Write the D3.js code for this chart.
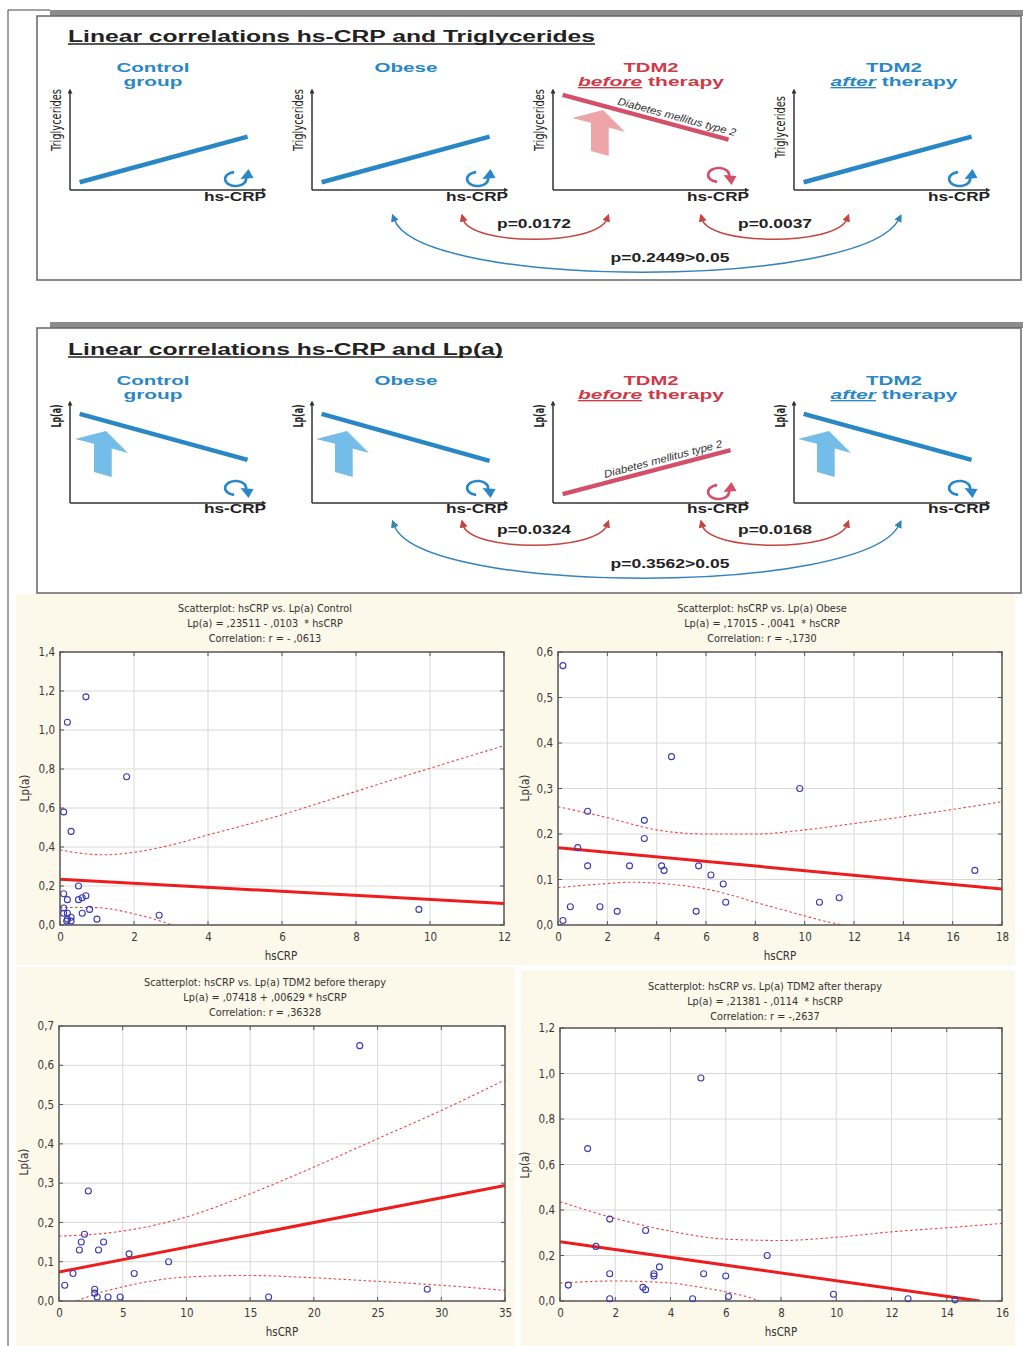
<!DOCTYPE html>
<html><head><meta charset="utf-8">
<script src="https://cdn.jsdelivr.net/npm/d3@7"></script>
<style>body{margin:0;background:#fff}</style>
</head><body>
<svg id="c" width="1023" height="1346" xmlns="http://www.w3.org/2000/svg"></svg>
<script>
// ---------------- DATA ----------------
const groups = ["Control group", "Obese", "TDM2 before therapy", "TDM2 after therapy"];
const groupTitleLines = [["Control", "group"], ["Obese"], ["TDM2", "before therapy"], ["TDM2", "after therapy"]];
const groupColorKey = ["blue", "blue", "red", "blue"];
// schematic trend lines (normalised 0..1 units: x0, y0, x1, y1)
const trigTrend = [[0.05, 0.08, 0.92, 0.55], [0.05, 0.08, 0.92, 0.55], [0.05, 0.98, 0.91, 0.52], [0.05, 0.08, 0.92, 0.55]];
const lpTrend   = [[0.05, 0.91, 0.92, 0.44], [0.05, 0.91, 0.92, 0.43], [0.05, 0.09, 0.92, 0.54], [0.05, 0.91, 0.92, 0.44]];
const trigRotation = ["up", "up", "down", "up"];
const lpRotation   = ["down", "down", "up", "down"];
const trigBigArrow = [false, false, true, false];
const lpBigArrow   = [true, true, false, true];
const pTrig = ["p=0.0172", "p=0.0037", "p=0.2449>0.05"];
const pLp   = ["p=0.0324", "p=0.0168", "p=0.3562>0.05"];
const panelTitles = ["Linear correlations hs-CRP and Triglycerides", "Linear correlations hs-CRP and Lp(a)"];

// scatter plots (hsCRP, Lp(a))
const controlPts = [[0.7,1.17],[0.2,1.04],[1.8,0.76],[0.1,0.58],[0.3,0.48],[0.5,0.2],[0.1,0.16],[0.2,0.13],[0.5,0.13],[0.6,0.14],[0.7,0.15],[0.1,0.087],[0.8,0.08],[0.1,0.06],[0.2,0.06],[0.6,0.06],[0.2,0.03],[0.3,0.04],[0.18,0.02],[0.3,0.02],[1.0,0.03],[2.68,0.05],[9.7,0.08]];
const obesePts = [[0.2,0.57],[4.6,0.37],[9.8,0.30],[1.2,0.25],[3.5,0.23],[3.5,0.19],[0.8,0.17],[1.2,0.13],[2.9,0.13],[4.2,0.13],[4.3,0.12],[5.7,0.13],[6.2,0.11],[6.7,0.09],[6.8,0.05],[16.9,0.12],[0.5,0.04],[1.7,0.04],[2.4,0.03],[5.6,0.03],[0.2,0.01],[10.6,0.05],[11.4,0.06]];
const beforePts = [[23.6,0.65],[2.3,0.28],[2.0,0.17],[1.75,0.15],[3.5,0.15],[1.6,0.13],[3.1,0.13],[5.5,0.12],[8.6,0.10],[1.1,0.07],[5.9,0.07],[0.45,0.04],[2.8,0.03],[2.8,0.02],[3.0,0.01],[3.85,0.01],[4.8,0.01],[16.45,0.01],[28.9,0.03]];
const afterPts = [[5.1,0.98],[1.0,0.67],[1.8,0.36],[3.1,0.31],[1.3,0.24],[7.5,0.20],[3.6,0.15],[1.8,0.12],[3.4,0.12],[3.4,0.11],[5.2,0.12],[6.0,0.11],[0.3,0.07],[3.0,0.06],[3.1,0.05],[1.8,0.01],[4.8,0.01],[6.1,0.02],[9.9,0.03],[12.6,0.01],[14.3,0.005]];

const controlFit = [[0,0.235],[12,0.11]];
const obeseFit   = [[0,0.17],[18,0.079]];
const beforeFit  = [[0,0.074],[35,0.294]];
const afterFit   = [[0,0.26],[15.2,0]];

const controlUpper = [[0,0.385],[0.6,0.367],[1.2,0.36],[2,0.373],[3,0.41],[4,0.462],[5,0.512],[6,0.565],[7,0.625],[8,0.685],[9,0.745],[10,0.804],[11,0.862],[12,0.92]];
const controlLower = [[0,0.09],[1,0.089],[1.5,0.078],[2,0.057],[2.5,0.033],[3.02,0]];
const obeseUpper = [[0,0.26],[2,0.236],[4,0.209],[6,0.2],[8,0.2],[10,0.209],[12,0.223],[14,0.238],[16,0.254],[18,0.271]];
const obeseLower = [[0,0.082],[2,0.091],[3,0.094],[4,0.092],[5,0.087],[6,0.079],[7,0.066],[8,0.05],[9,0.035],[10,0.02],[11,0.006],[11.57,0]];
const beforeUpper = [[0,0.165],[5,0.178],[10,0.214],[15,0.273],[20,0.341],[25,0.413],[30,0.485],[35,0.563]];
const beforeLower = [[1.39,0],[3,0.019],[5,0.036],[10,0.061],[15,0.065],[20,0.059],[25,0.05],[30,0.04],[35,0.027]];
const afterUpper = [[0,0.436],[2,0.363],[4,0.307],[6,0.272],[8,0.266],[10,0.28],[12,0.304],[14,0.322],[16,0.341]];
const afterLower = [[0,0.079],[2,0.088],[4,0.079],[5,0.062],[6,0.04],[7,0.01],[7.23,0]];

const controlXTicks = [0,2,4,6,8,10,12],  controlYTicks = [0,0.2,0.4,0.6,0.8,1.0,1.2,1.4];
const obeseXTicks = [0,2,4,6,8,10,12,14,16,18], obeseYTicks = [0,0.1,0.2,0.3,0.4,0.5,0.6];
const beforeXTicks = [0,5,10,15,20,25,30,35], beforeYTicks = [0,0.1,0.2,0.3,0.4,0.5,0.6,0.7];
const afterXTicks = [0,2,4,6,8,10,12,14,16], afterYTicks = [0,0.2,0.4,0.6,0.8,1.0,1.2];

const scatterTitles = [
  ["Scatterplot: hsCRP vs. Lp(a) Control", "Lp(a) = ,23511 - ,0103  * hsCRP", "Correlation: r = - ,0613"],
  ["Scatterplot: hsCRP vs. Lp(a) Obese", "Lp(a) = ,17015 - ,0041  * hsCRP", "Correlation: r = -,1730"],
  ["Scatterplot: hsCRP vs. Lp(a) TDM2 before therapy", "Lp(a) = ,07418 + ,00629 * hsCRP", "Correlation: r = ,36328"],
  ["Scatterplot: hsCRP vs. Lp(a) TDM2 after therapy", "Lp(a) = ,21381 - ,0114  * hsCRP", "Correlation: r = -,2637"]
];

// ---------------- STYLE / LAYOUT ----------------
const BLUE = "#2a87c6", RED = "#cf3a48", LINE_RED = "#d4506a", PINK = "#eca4a9", LBLUE = "#74bde9";
const ARC_RED = "#c8453f", ARC_BLUE = "#3282bb";
const CREAM = "#fcf8ea";
const BOLD = "'Liberation Sans', Arial, sans-serif";
const NARROW = "'Liberation Sans Narrow', 'Arial Narrow', 'DejaVu Sans Condensed', sans-serif";

const svg = d3.select("#c");
const defs = svg.append("defs");
function marker(id, color, size) {
  defs.append("marker").attr("id", id).attr("viewBox", "0 0 10 10")
    .attr("refX", 3).attr("refY", 5).attr("markerWidth", size).attr("markerHeight", size)
    .attr("markerUnits", "userSpaceOnUse").attr("orient", "auto-start-reverse")
    .append("path").attr("d", "M0,0L10,5L0,10z").attr("fill", color);
}
marker("mRed", ARC_RED, 8); marker("mBlue", ARC_BLUE, 8); marker("mAx", "#333", 5);

// outer frame lines
svg.append("line").attr("x1", 8).attr("y1", 10).attr("x2", 8).attr("y2", 1346).attr("stroke", "#444").attr("stroke-width", 1);
svg.append("line").attr("x1", 8).attr("y1", 10).attr("x2", 50).attr("y2", 10).attr("stroke", "#444").attr("stroke-width", 1);

function btext(g, str, x, y, size, len, color, anchor) {
  return g.append("text").attr("x", x).attr("y", y).attr("font-family", BOLD).attr("font-weight", "bold")
    .attr("font-size", size).attr("fill", color || "#222").attr("text-anchor", anchor || "middle")
    .attr("textLength", len).attr("lengthAdjust", "spacingAndGlyphs").text(str);
}

const miniX = [70, 312, 553, 794];
const titleCx = [153, 406, 651, 894];
const titleLen = [[73, 59], [63], [55, 146], [56, 127]];

function panel(cfg) {
  const g = svg.append("g");
  // gray bar + box
  g.append("rect").attr("x", 50).attr("y", cfg.boxTop - 6).attr("width", 973).attr("height", 6).attr("fill", "#8c8c8c");
  g.append("rect").attr("x", 37).attr("y", cfg.boxTop).attr("width", 984).attr("height", cfg.boxBottom - cfg.boxTop)
    .attr("fill", "#fff").attr("stroke", "#666").attr("stroke-width", 1.5);
  // title
  btext(g, cfg.title, 68, cfg.titleY, 16, cfg.titleLen, "#222", "start");
  g.append("line").attr("x1", 68).attr("x2", 68 + cfg.titleLen).attr("y1", cfg.titleY + 2.5).attr("y2", cfg.titleY + 2.5)
    .attr("stroke", "#222").attr("stroke-width", 1.3);

  groups.forEach((grp, i) => {
    const ox = miniX[i], oy = cfg.oy;
    const x = d3.scaleLinear().domain([0, 1]).range([ox, ox + 193]);
    const y = d3.scaleLinear().domain([0, 1]).range([oy, cfg.top]);
    const col = groupColorKey[i] === "red" ? RED : BLUE;
    const lcol = groupColorKey[i] === "red" ? LINE_RED : BLUE;
    // titles
    const lines = groupTitleLines[i];
    lines.forEach((ln, k) => {
      const ty = cfg.titleBase[k];
      if (ln.startsWith("before") || ln.startsWith("after")) {
        const word = ln.split(" ")[0];
        const t = g.append("text").attr("x", titleCx[i]).attr("y", ty).attr("font-family", BOLD).attr("font-weight", "bold")
          .attr("font-size", 13.5).attr("fill", col).attr("text-anchor", "middle")
          .attr("textLength", titleLen[i][k]).attr("lengthAdjust", "spacingAndGlyphs");
        t.append("tspan").attr("font-style", "italic").attr("text-decoration", "underline").text(word);
        t.append("tspan").text(" therapy");
      } else {
        btext(g, ln, titleCx[i], ty, 13.5, titleLen[i][k], col);
      }
    });
    // axes
    g.append("line").attr("x1", ox).attr("y1", oy).attr("x2", ox).attr("y2", cfg.top - 1).attr("stroke", "#333").attr("stroke-width", 1.5).attr("marker-end", "url(#mAx)");
    g.append("line").attr("x1", ox).attr("y1", oy).attr("x2", ox + 193).attr("y2", oy).attr("stroke", "#333").attr("stroke-width", 1.5).attr("marker-end", "url(#mAx)");
    // y label
    const yl = cfg.yLabel;
    g.append("text").attr("transform", `translate(${ox - 9},${cfg.yLabelCy[i]}) rotate(-90)`)
      .attr("text-anchor", "middle").attr("font-family", NARROW).attr("font-size", 14)
      .attr("font-weight", cfg.yLabelBold ? "bold" : "normal").attr("fill", "#222")
      .attr("textLength", cfg.yLabelLen).attr("lengthAdjust", "spacingAndGlyphs").text(yl);
    // hs-CRP label
    btext(g, "hs-CRP", ox + 165, cfg.hsY, 12.5, 62, "#222");
    // block arrow (behind line)
    if (cfg.bigArrow[i]) {
      const tipX = ox + cfg.arrowDx[i], tipY = oy + cfg.arrowDy;
      const shape = [[0,0],[22,22],[5.7,17.6],[5.7,46],[-12,41],[-12,12.8],[-31,8]];
      g.append("polygon").attr("points", shape.map(p => [tipX + p[0], tipY + p[1]].join(",")).join(" "))
        .attr("fill", groupColorKey[i] === "red" ? PINK : LBLUE);
    }
    // trend line
    const tr = cfg.trend[i];
    g.append("line").attr("x1", x(tr[0])).attr("y1", y(tr[1])).attr("x2", x(tr[2])).attr("y2", y(tr[3]))
      .attr("stroke", lcol).attr("stroke-width", 4.5);
    if (groupColorKey[i] === "red") {
      const x0 = x(tr[0]), y0 = y(tr[1]), x1 = x(tr[2]), y1 = y(tr[3]);
      const ang = Math.atan2(y1 - y0, x1 - x0) * 180 / Math.PI;
      const t = cfg.dmT;
      g.append("text").attr("transform", `translate(${x0 + t * (x1 - x0)},${y0 + t * (y1 - y0)}) rotate(${ang})`)
        .attr("y", -5).attr("font-family", BOLD).attr("font-style", "italic").attr("font-size", 10.5)
        .attr("fill", "#333").attr("textLength", 122).attr("lengthAdjust", "spacingAndGlyphs").text("Diabetes mellitus type 2");
    }
    // rotation icon
    const rot = cfg.rotation[i];
    const cx = ox + 166, rx = 10.5, ry = 7;
    const cy = rot === "up" ? oy - 11 : oy - 15;
    const s = rot === "up" ? -1 : 1;
    const sx = cx + rx * Math.cos(100 * Math.PI / 180) , sy = cy + s * ry * Math.sin(100 * Math.PI / 180);
    g.append("path").attr("d", `M${sx},${sy} A${rx},${ry} 0 1 ${rot === "up" ? 0 : 1} ${cx + rx - 0.5},${cy + s * 1}`)
      .attr("fill", "none").attr("stroke", lcol).attr("stroke-width", 2.6);
    const ax = cx + rx, ay = cy;
    g.append("polygon").attr("points", [[ax - 6, ay + s * 0], [ax + 7, ay + s * 1], [ax + 2, ay + s * 10]].map(p => p.join(",")).join(" "))
      .attr("fill", lcol);
  });

  // p-value arcs
  const arcs = [
    { d: [463, 607, 246], c: ARC_RED, m: "mRed", lx: 534, ly: 229, t: cfg.p[0], len: 74 },
    { d: [702, 847, 246], c: ARC_RED, m: "mRed", lx: 775, ly: 229, t: cfg.p[1], len: 74 },
    { d: [394, 899, 290], c: ARC_BLUE, m: "mBlue", lx: 670, ly: 263, t: cfg.p[2], len: 119 }
  ];
  arcs.forEach(a => {
    const y0 = 219 + cfg.arcDy, yc = a.d[2] + cfg.arcDy;
    const wid = a.d[1] - a.d[0];
    g.append("path").attr("d", `M${a.d[0]},${y0} C${a.d[0] + wid * 0.05},${yc} ${a.d[1] - wid * 0.07},${yc} ${a.d[1]},${y0}`)
      .attr("fill", "none").attr("stroke", a.c).attr("stroke-width", 1.5)
      .attr("marker-start", `url(#${a.m})`).attr("marker-end", `url(#${a.m})`);
    btext(g, a.t, a.lx, a.ly + cfg.arcDy - 1, 12.5, a.len, "#222");
  });
}

panel({ boxTop: 16, boxBottom: 280, title: panelTitles[0], titleY: 41.5, titleLen: 527, oy: 190, top: 93,
  titleBase: [72, 86], hsY: 200.5, yLabel: "Triglycerides", yLabelCy: [120, 120, 120, 127], yLabelLen: 62, yLabelBold: false,
  trend: trigTrend, rotation: trigRotation, bigArrow: trigBigArrow, arrowDx: [0, 0, 50, 0], arrowDy: -80, dmT: 0.32,
  arcDy: 0, p: pTrig });
panel({ boxTop: 328, boxBottom: 593, title: panelTitles[1], titleY: 354.5, titleLen: 435, oy: 503, top: 405,
  titleBase: [385, 399], hsY: 513, yLabel: "Lp(a)", yLabelCy: [416, 416, 416, 416], yLabelLen: 23, yLabelBold: true,
  trend: lpTrend, rotation: lpRotation, bigArrow: lpBigArrow, arrowDx: [36, 35, 0, 35], arrowDy: -72, dmT: 0.26,
  arcDy: 306, p: pLp });

// ---------------- SCATTERPLOTS ----------------
const locale = d3.formatLocale({ decimal: ",", thousands: " ", grouping: [3], currency: ["", ""] });
const fy = locale.format(".1f");
const scatterLayout = [
  { bg: [16, 594, 501, 371], left: 60, right: 504, top: 652, bottom: 925, tcx: 265, ty: 611.5, xl: [281, 960], yl: [29, 788] },
  { bg: [517, 594, 498, 371], left: 558, right: 1002, top: 652, bottom: 925, tcx: 762, ty: 611.5, xl: [780, 960], yl: [529, 788] },
  { bg: [16, 967, 499, 379], left: 59, right: 505, top: 1026, bottom: 1301, tcx: 265, ty: 985.5, xl: [282, 1336], yl: [28, 1162] },
  { bg: [521, 970, 494, 376], left: 560, right: 1002, top: 1028, bottom: 1301, tcx: 765, ty: 989.5, xl: [781, 1336], yl: [529, 1165] }
];
const scatterData = [
  { pts: controlPts, fit: controlFit, up: controlUpper, lo: controlLower, xt: controlXTicks, yt: controlYTicks },
  { pts: obesePts, fit: obeseFit, up: obeseUpper, lo: obeseLower, xt: obeseXTicks, yt: obeseYTicks },
  { pts: beforePts, fit: beforeFit, up: beforeUpper, lo: beforeLower, xt: beforeXTicks, yt: beforeYTicks },
  { pts: afterPts, fit: afterFit, up: afterUpper, lo: afterLower, xt: afterXTicks, yt: afterYTicks }
];

scatterData.forEach((d, i) => {
  const L = scatterLayout[i];
  const g = svg.append("g");
  g.append("rect").attr("x", L.bg[0]).attr("y", L.bg[1]).attr("width", L.bg[2]).attr("height", L.bg[3]).attr("fill", CREAM);
  const x = d3.scaleLinear().domain([d.xt[0], d.xt[d.xt.length - 1]]).range([L.left, L.right]);
  const y = d3.scaleLinear().domain([d.yt[0], d.yt[d.yt.length - 1]]).range([L.bottom, L.top]);
  g.append("rect").attr("x", L.left).attr("y", L.top).attr("width", L.right - L.left).attr("height", L.bottom - L.top).attr("fill", "#fff");
  // grid
  g.append("g").selectAll("line").data(d.xt.slice(1, -1)).join("line")
    .attr("x1", v => x(v)).attr("x2", v => x(v)).attr("y1", L.top).attr("y2", L.bottom).attr("stroke", "#d9d9d9").attr("stroke-width", 1);
  g.append("g").selectAll("line").data(d.yt.slice(1, -1)).join("line")
    .attr("y1", v => y(v)).attr("y2", v => y(v)).attr("x1", L.left).attr("x2", L.right).attr("stroke", "#d9d9d9").attr("stroke-width", 1);
  // inner ticks on all sides
  const tk = g.append("g").attr("stroke", "#555").attr("stroke-width", 1);
  d.xt.forEach(v => {
    tk.append("line").attr("x1", x(v)).attr("x2", x(v)).attr("y1", L.top).attr("y2", L.top + 4);
    tk.append("line").attr("x1", x(v)).attr("x2", x(v)).attr("y1", L.bottom).attr("y2", L.bottom - 4);
  });
  d.yt.forEach(v => {
    tk.append("line").attr("y1", y(v)).attr("y2", y(v)).attr("x1", L.left).attr("x2", L.left + 4);
    tk.append("line").attr("y1", y(v)).attr("y2", y(v)).attr("x1", L.right).attr("x2", L.right - 4);
  });
  // axes labels
  const ax = g.append("g").attr("transform", `translate(0,${L.bottom})`)
    .call(d3.axisBottom(x).tickValues(d.xt).tickFormat(d3.format("d")).tickSize(0).tickPadding(8));
  const ay = g.append("g").attr("transform", `translate(${L.left},0)`)
    .call(d3.axisLeft(y).tickValues(d.yt).tickFormat(fy).tickSize(0).tickPadding(5));
  [ax, ay].forEach(a => {
    a.select(".domain").remove();
    a.selectAll("text").attr("font-family", NARROW).attr("font-size", 11.5).attr("fill", "#3a3a3a");
  });
  // clip
  const cid = "clip" + i;
  defs.append("clipPath").attr("id", cid).append("rect").attr("x", L.left).attr("y", L.top).attr("width", L.right - L.left).attr("height", L.bottom - L.top);
  const pg = g.append("g").attr("clip-path", `url(#${cid})`);
  const line = d3.line().x(p => x(p[0])).y(p => y(p[1])).curve(d3.curveMonotoneX);
  [d.up, d.lo].forEach(b => pg.append("path").attr("d", line(b)).attr("fill", "none")
    .attr("stroke", "#f0433f").attr("stroke-width", 1.1).attr("stroke-dasharray", "2.5,2.5"));
  pg.append("path").attr("d", d3.line().x(p => x(p[0])).y(p => y(p[1]))(d.fit)).attr("fill", "none")
    .attr("stroke", "#ee1c1c").attr("stroke-width", 3);
  // frame
  g.append("rect").attr("x", L.left).attr("y", L.top).attr("width", L.right - L.left).attr("height", L.bottom - L.top)
    .attr("fill", "none").attr("stroke", "#555").attr("stroke-width", 1.5);
  // points
  g.append("g").selectAll("circle").data(d.pts).join("circle")
    .attr("cx", p => x(p[0])).attr("cy", p => y(p[1])).attr("r", 3)
    .attr("fill", "none").attr("stroke", "#3a3ab2").attr("stroke-width", 1.1);
  // titles
  scatterTitles[i].forEach((t, k) => {
    g.append("text").attr("x", L.tcx).attr("y", L.ty + k * 15).attr("text-anchor", "middle")
      .attr("font-family", NARROW).attr("font-size", 10.8).attr("fill", "#333").style("white-space", "pre").text(t);
  });
  g.append("text").attr("x", L.xl[0]).attr("y", L.xl[1]).attr("text-anchor", "middle")
    .attr("font-family", NARROW).attr("font-size", 11.5).attr("fill", "#333").text("hsCRP");
  g.append("text").attr("transform", `translate(${L.yl[0]},${L.yl[1]}) rotate(-90)`).attr("text-anchor", "middle")
    .attr("font-family", NARROW).attr("font-size", 11.5).attr("fill", "#333").text("Lp(a)");
});
</script>
</body></html>
